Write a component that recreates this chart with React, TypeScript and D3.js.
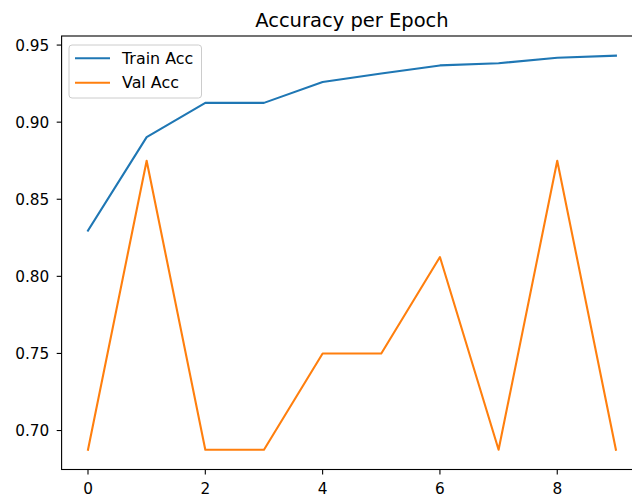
import React from "react";
import * as d3 from "d3";

const epochs = [0, 1, 2, 3, 4, 5, 6, 7, 8, 9];
const trainAcc = [0.8297, 0.8903, 0.9125, 0.9125, 0.926, 0.9316, 0.9368, 0.9382, 0.9418, 0.9431];
const valAcc = [0.6875, 0.875, 0.6875, 0.6875, 0.75, 0.75, 0.8125, 0.6875, 0.875, 0.6875];
const xTicks = [0, 2, 4, 6, 8];
const yTicks = [0.7, 0.75, 0.8, 0.85, 0.9, 0.95];
const seriesNames = ["Train Acc", "Val Acc"];
const colors = ["#1f77b4", "#ff7f0e"];
const title = "Accuracy per Epoch";

export default function App() {
  const W = 632, H = 497;
  const left = 61.6, right = 642.3, top = 36, bottom = 469.5;
  const x = d3.scaleLinear().domain([-0.45, 9.45]).range([left, right]);
  const allY = [...trainAcc, ...valAcc];
  const ymin = d3.min(allY)!, ymax = d3.max(allY)!;
  const pad = (ymax - ymin) * 0.05;
  const y = d3.scaleLinear().domain([ymin - pad, ymax + pad]).range([bottom, top]);
  const line = d3.line<number>().x((_, i) => x(epochs[i])).y((d) => y(d));
  const font = "DejaVu Sans, sans-serif";
  const data = [trainAcc, valAcc];
  const fs = 15.3;
  return (
    <div style={{ position: "fixed", left: 0, top: 0 }}>
      <svg width={W} height={H} style={{ display: "block", background: "#fff" }}>
        <defs>
          <clipPath id="clip">
            <rect x={left} y={top} width={right - left} height={bottom - top} />
          </clipPath>
        </defs>
        <g clipPath="url(#clip)">
          {data.map((d, i) => (
            <path key={i} d={line(d)!} fill="none" stroke={colors[i]} strokeWidth={2.1} strokeLinejoin="round" strokeLinecap="square" />
          ))}
        </g>
        <rect x={left} y={top} width={right - left} height={bottom - top} fill="none" stroke="#000" strokeWidth={1.1} />
        {xTicks.map((t) => (
          <g key={t}>
            <line x1={x(t)} x2={x(t)} y1={bottom} y2={bottom + 4.9} stroke="#000" strokeWidth={1.1} />
            <text x={x(t)} y={bottom + 24.5} textAnchor="middle" fontFamily={font} fontSize={fs} fill="#000">{t}</text>
          </g>
        ))}
        {yTicks.map((t) => (
          <g key={t}>
            <line x1={left - 4.9} x2={left} y1={y(t)} y2={y(t)} stroke="#000" strokeWidth={1.1} />
            <text x={left - 12.3} y={y(t)} dy="0.36em" textAnchor="end" fontFamily={font} fontSize={fs} fill="#000">{t.toFixed(2)}</text>
          </g>
        ))}
        <text x={(left + right) / 2} y={27} textAnchor="middle" fontFamily={font} fontSize={19.5} fill="#000">{title}</text>
        <g>
          <rect x={69} y={45} width={132.5} height={53} rx={3} fill="#fff" fillOpacity={0.8} stroke="#cccccc" strokeWidth={1} />
          {seriesNames.map((n, i) => (
            <g key={n}>
              <line x1={75} x2={110} y1={58.3 + i * 24.4} y2={58.3 + i * 24.4} stroke={colors[i]} strokeWidth={2.1} />
              <text x={122} y={58.3 + i * 24.4} dy="0.36em" fontFamily={font} fontSize={15.9} fill="#000">{n}</text>
            </g>
          ))}
        </g>
      </svg>
    </div>
  );
}
